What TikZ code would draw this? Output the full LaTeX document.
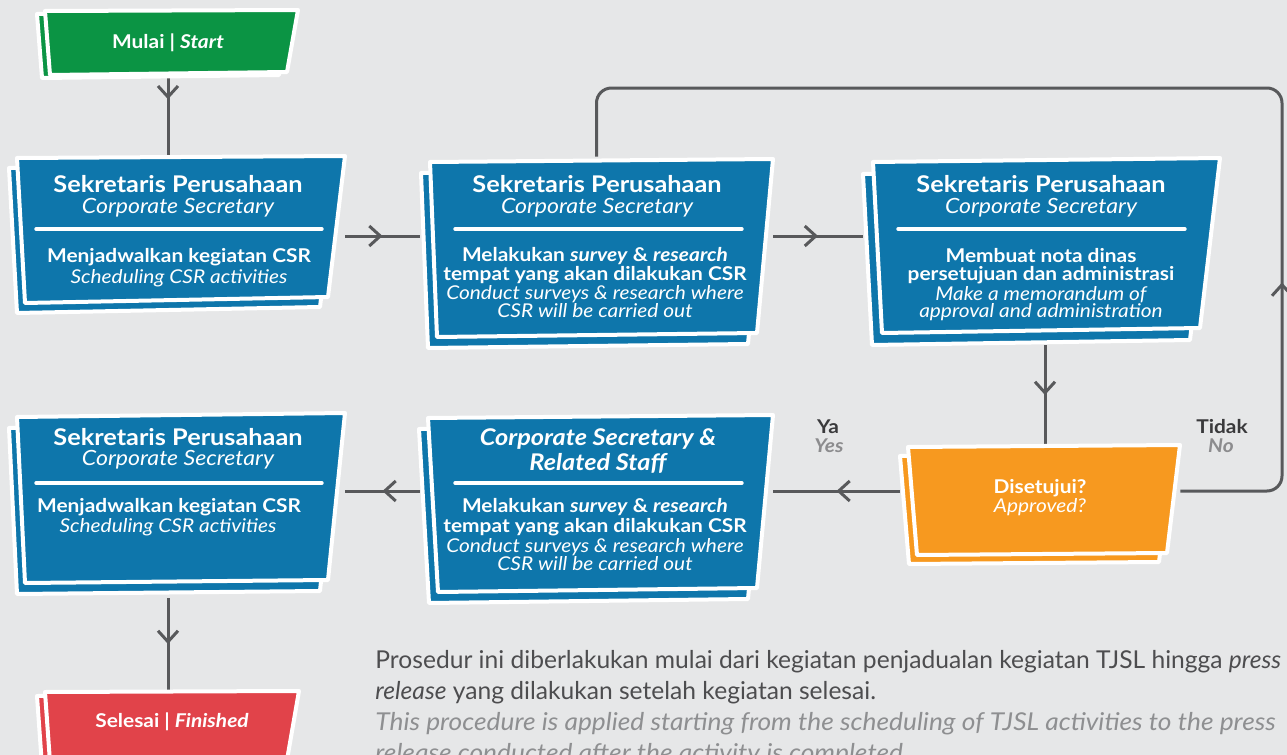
\documentclass[tikz,border=0pt]{standalone}
\usepackage{fontspec}
\setmainfont{Lato}[FakeStretch=1.1]
\newfontfamily\parafont{Lato}
\newfontfamily\paraitfont{Lato}[FakeStretch=1.07]
\usetikzlibrary{arrows.meta,decorations.markings,calc}
\definecolor{bg}{HTML}{E6E7E8}
\definecolor{cblue}{HTML}{0E76AB}
\definecolor{cgreen}{HTML}{0B9444}
\definecolor{corange}{HTML}{F7991F}
\definecolor{cred}{HTML}{E1434A}
\definecolor{cline}{HTML}{58595B}
\definecolor{cdark}{HTML}{3A3A3C}
\definecolor{cgray}{HTML}{8C8C8E}
\definecolor{ptext}{HTML}{4D4D4F}
\definecolor{ptextl}{HTML}{8E8F91}
\newcommand\sketchpoly[6]{%
  \path[shell, fill=#1] ($#2+#6$) -- ($#3+#6$) -- ($#4+#6$) -- ($#5+#6$) -- cycle;
  \path[shell, fill=#1] #2 -- #3 -- #4 -- #5 -- cycle;}
\begin{document}
\begin{tikzpicture}[x=0.5pt,y=-0.5pt,
  shell/.style={draw=white, line width=2pt, line join=round},
  hold/.style 2 args={draw=none, inner sep=0pt, minimum width=#1, minimum height=#2},
  conn/.style={draw=cline, line width=1.5pt},
  chev/.style={postaction={decorate}, decoration={markings, mark=at position #1 with {\arrow[cline]{Straight Barb[length=5.5pt,width=10pt,line width=1.5pt]}}}},
  divider/.style={draw=white, line width=1.7pt, line cap=round},
  ttl/.style={text=white, anchor=base, inner sep=0pt, font=\fontsize{11.5}{13}\selectfont\bfseries},
  sub/.style={text=white, anchor=base, inner sep=0pt, font=\fontsize{10.5}{12}\selectfont\itshape},
  bod/.style={text=white, anchor=base, inner sep=0pt, font=\fontsize{9.5}{11}\selectfont\bfseries},
  bit/.style={text=white, anchor=base, inner sep=0pt, font=\fontsize{9.5}{11}\selectfont\itshape},
  lab/.style={text=cdark, anchor=base, inner sep=0pt, font=\fontsize{9.5}{11}\selectfont\bfseries},
  labg/.style={text=cgray, anchor=base, inner sep=0pt, font=\fontsize{9.5}{11}\selectfont\bfseries\itshape},
  para/.style={text=ptext, anchor=base west, inner sep=0pt, font=\parafont\fontsize{12.3}{14}\selectfont},
  paral/.style={text=ptextl, anchor=base west, inner sep=0pt, font=\paraitfont\fontsize{12.3}{14}\selectfont\itshape}
]
\useasboundingbox (0,0) rectangle (1287,755);
\fill[bg] (0,0) rectangle (1287,755);
\clip (0,0) rectangle (1287,755);

% placeholder nodes (box extents)
\node[hold={128pt}{34pt}] (start) at (168,44) {};
\node[hold={168pt}{78.5pt}] (b1) at (177,234.5) {};
\node[hold={176.5pt}{96.5pt}] (b2) at (596.5,253.5) {};
\node[hold={178.5pt}{94pt}] (b3) at (1041.5,251) {};
\node[hold={140pt}{59pt}] (dec) at (1040,504) {};
\node[hold={176.5pt}{93.5pt}] (b5) at (596.5,506.5) {};
\node[hold={168pt}{92.5pt}] (b4) at (177,505.5) {};
\node[hold={128pt}{40pt}] (end) at (168,730) {};
\coordinate (r1) at (0,236);
\coordinate (r2) at (0,491);
\coordinate (c1) at (168,0);
\coordinate (c3) at (1045,0);
\coordinate (lp) at (1282,88);

% connectors
\draw[conn, chev=0.27] (start.south) -- (start.south |- b1.north);
\draw[conn, chev=0.5] (b1.east |- r1) -- (b2.west |- r1);
\draw[conn, chev=0.5] (b2.east |- r1) -- (b3.west |- r1);
\draw[conn, chev=0.5] (c3 |- b3.south) -- (c3 |- dec.north);
\draw[conn, chev=0.5] (dec.west |- r2) -- (b5.east |- r2);
\draw[conn, chev=0.5] (b5.west |- r2) -- (b4.east |- r2);
\draw[conn, chev=0.5] (c1 |- b4.south) -- (c1 |- end.north);
\draw[conn, chev=0.245, rounded corners=7.5pt] (dec.east |- r2) -| (lp) -| (b2.north);

% boxes
\sketchpoly{cgreen}{(45,11)}{(298,10)}{(287,72)}{(50,75)}{(-8,3)}
\sketchpoly{cblue}{(17,158)}{(345,156)}{(328,297)}{(25,303)}{(-8,10)}
\sketchpoly{cblue}{(430,162)}{(773,159)}{(757,333)}{(437,337)}{(-9,11)}
\sketchpoly{cblue}{(873,162)}{(1220,158)}{(1200,328)}{(882,333)}{(-10,12)}
\sketchpoly{corange}{(908,447)}{(1180,445)}{(1167,553)}{(917,555)}{(-8,9)}
\sketchpoly{cblue}{(428,418)}{(773,415)}{(757,588)}{(438,592)}{(-9,11)}
\sketchpoly{cblue}{(17,417)}{(345,413)}{(328,580)}{(25,583)}{(-8,11)}
\sketchpoly{cred}{(45,692)}{(299,691)}{(287,760)}{(50,762)}{(-8,4)}

% dividers
\draw[divider] (36,229) -- (322,229);
\draw[divider] (455,229) -- (742,229);
\draw[divider] (898,229) -- (1185,229);
\draw[divider] (455,483) -- (742,483);
\draw[divider] (36,483) -- (322,483);

% texts
\node[bod] (ts) at (168,48) {Mulai | \textit{Start}};

\node[ttl] (t1a) at (178,192) {Sekretaris Perusahaan};
\node[sub] (t1b) at (178,213) {Corporate Secretary};
\node[bod] (t1c) at (179,262) {Menjadwalkan kegiatan CSR};
\node[bit] (t1d) at (179,283) {Scheduling CSR activities};

\node[ttl] (t2a) at (597,192) {Sekretaris Perusahaan};
\node[sub] (t2b) at (597,213) {Corporate Secretary};
\node[bod] (t2c) at (595,261) {Melakukan \textit{survey} \& \textit{research}};
\node[bod] (t2d) at (595,280) {tempat yang akan dilakukan CSR};
\node[bit] (t2e) at (595,299) {Conduct surveys \& research where};
\node[bit] (t2f) at (595,317) {CSR will be carried out};

\node[ttl] (t3a) at (1041,192) {Sekretaris Perusahaan};
\node[sub] (t3b) at (1041,213) {Corporate Secretary};
\node[bod] (t3c) at (1041,262) {Membuat nota dinas};
\node[bod] (t3d) at (1041,280) {persetujuan dan administrasi};
\node[bit] (t3e) at (1041,300) {Make a memorandum of};
\node[bit] (t3f) at (1041,317) {approval and administration};

\node[bod] (tda) at (1040,493) {Disetujui?};
\node[bit] (tdb) at (1040,512) {Approved?};

\node[ttl] (t5a) at (598,445) {\itshape Corporate Secretary \&};
\node[ttl] (t5b) at (598,470) {\itshape Related Staff};
\node[bod] (t5c) at (595,512) {Melakukan \textit{survey} \& \textit{research}};
\node[bod] (t5d) at (595,532) {tempat yang akan dilakukan CSR};
\node[bit] (t5e) at (595,552) {Conduct surveys \& research where};
\node[bit] (t5f) at (595,570) {CSR will be carried out};

\node[ttl] (t4a) at (178,445) {Sekretaris Perusahaan};
\node[sub] (t4b) at (178,465) {Corporate Secretary};
\node[bod] (t4c) at (169,512) {Menjadwalkan kegiatan CSR};
\node[bit] (t4d) at (168,532) {Scheduling CSR activities};

\node[bod] (te) at (172,727) {Selesai | \textit{Finished}};

\node[lab] (ya) at (828,433) {Ya};
\node[labg] (yes) at (829,452) {Yes};
\node[lab] (tidak) at (1222,433) {Tidak};
\node[labg] (no) at (1221,452) {No};

\node[para] (p1) at (375,668) {Prosedur ini diberlakukan mulai dari kegiatan penjadualan kegiatan TJSL hingga \textit{press}};
\node[para] (p2) at (375,699) {\textit{release} yang dilakukan setelah kegiatan selesai.};
\node[paral] (p3) at (375,730) {This procedure is applied starting from the scheduling of TJSL activities to the press};
\node[paral] (p4) at (375,761) {release conducted after the activity is completed.};
\end{tikzpicture}
\end{document}
